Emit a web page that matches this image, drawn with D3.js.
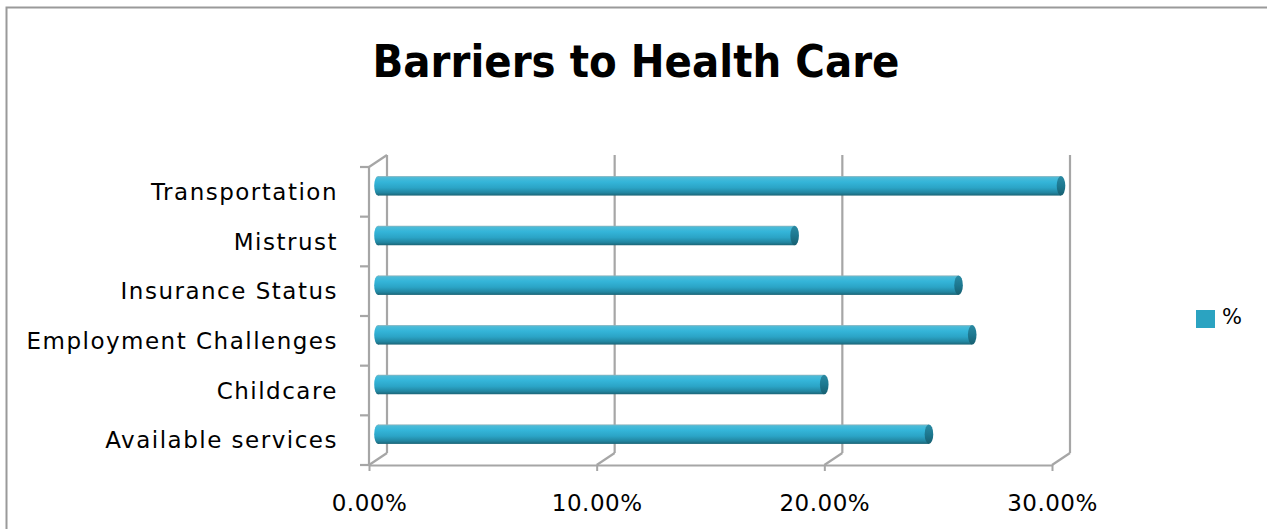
<!DOCTYPE html>
<html>
<head>
<meta charset="utf-8">
<script src="https://cdn.jsdelivr.net/npm/d3@7"></script>
<style>
  html, body { margin: 0; padding: 0; background: #fff; }
  svg { display: block; }
  text { font-family: "DejaVu Sans", Verdana, sans-serif; fill: #000; }
</style>
</head>
<body>
<script>
// Barriers to Health Care — share of respondents citing each barrier
const categories = ["Transportation", "Mistrust", "Insurance Status",
                    "Employment Challenges", "Childcare", "Available services"];
const values = [0.300, 0.183, 0.255, 0.261, 0.196, 0.242];
const xTicks = [0, 0.1, 0.2, 0.3];
const seriesName = "%";
const title = "Barriers to Health Care";

const W = 1267, H = 529;
const depthX = 18, depthY = -12;          // 3-D wall offset
const gridColor = "#a6a6a6";

const svg = d3.select("body").append("svg")
  .attr("width", W).attr("height", H);

const defs = svg.append("defs");
const grad = defs.append("linearGradient")
  .attr("id", "cyl").attr("x1", 0).attr("y1", 0).attr("x2", 0).attr("y2", 1);
[["0", "#8fb4bd"], ["0.08", "#4bbbd8"], ["0.3", "#34b5d9"], ["0.6", "#2ba4c6"],
 ["0.85", "#2286a1"], ["1", "#1b6577"]].forEach(([o, c]) =>
  grad.append("stop").attr("offset", o).attr("stop-color", c));
const capGrad = defs.append("linearGradient")
  .attr("id", "cap").attr("x1", 0).attr("y1", 0).attr("x2", 0).attr("y2", 1);
[["0", "#2a8aa3"], ["0.5", "#1d7890"], ["1", "#175f70"]].forEach(([o, c]) =>
  capGrad.append("stop").attr("offset", o).attr("stop-color", c));

// outer frame
svg.append("rect")
  .attr("x", 6.5).attr("y", 7.5).attr("width", W + 20).attr("height", H + 20)
  .attr("fill", "none").attr("stroke", "#9a9a9a").attr("stroke-width", 2);

// title
svg.append("text")
  .attr("x", 636).attr("y", 77)
  .attr("text-anchor", "middle")
  .attr("font-size", 44).attr("font-weight", "bold")
  .attr("textLength", 527).attr("lengthAdjust", "spacingAndGlyphs")
  .text(title);

// scales (front plane of the 3-D plot)
const x = d3.scaleLinear().domain([0, 0.3]).range([369, 1052]);
const y = d3.scaleBand().domain(categories).range([167, 465]).padding(0);
const x0 = x(0), yTop = y.range()[0], yBot = y.range()[1];

const walls = svg.append("g").attr("fill", "none")
  .attr("stroke", gridColor).attr("stroke-width", 2.2);

// back-wall gridlines and floor diagonals
xTicks.forEach(t => {
  const fx = x(t);
  walls.append("line")
    .attr("x1", fx + depthX).attr("y1", yTop + depthY)
    .attr("x2", fx + depthX).attr("y2", yBot + depthY);
  walls.append("line")
    .attr("x1", fx).attr("y1", yBot)
    .attr("x2", fx + depthX).attr("y2", yBot + depthY);
});
// side wall: front edge + top diagonal
walls.append("line")
  .attr("x1", x0).attr("y1", yTop).attr("x2", x0).attr("y2", yBot);
walls.append("line")
  .attr("x1", x0).attr("y1", yTop).attr("x2", x0 + depthX).attr("y2", yTop + depthY);

// category boundary ticks on the side wall
const bounds = categories.map(c => y(c)).concat([yBot]);
walls.selectAll("line.ytick").data(bounds).join("line")
  .attr("class", "ytick")
  .attr("x1", x0 - 9).attr("x2", x0)
  .attr("y1", d => d).attr("y2", d => d);

// x axis along the front floor edge
const xAxis = svg.append("g")
  .attr("transform", `translate(0,${yBot})`)
  .call(d3.axisBottom(x).tickValues(xTicks).tickFormat(d3.format(".2%"))
        .tickSize(6).tickPadding(24).tickSizeOuter(0));
xAxis.select(".domain").attr("stroke", gridColor).attr("stroke-width", 2.2);
xAxis.selectAll(".tick line").attr("stroke", gridColor).attr("stroke-width", 2);
xAxis.selectAll(".tick text")
  .attr("font-family", "DejaVu Sans, sans-serif")
  .attr("font-size", 23).attr("letter-spacing", "0.5px").attr("fill", "#000");

// y axis labels
const yAxis = svg.append("g")
  .attr("transform", `translate(${x0},0)`)
  .call(d3.axisLeft(y).tickSize(0).tickPadding(31));
yAxis.select(".domain").remove();
yAxis.selectAll(".tick text")
  .attr("font-family", "DejaVu Sans, sans-serif")
  .attr("font-size", 23).attr("letter-spacing", "1.5px").attr("fill", "#000")
  .attr("dy", "0.36em");

// cylinder bars, placed mid-depth
const barH = 19.5, rx = 3.8;
const bars = svg.append("g").selectAll("g.bar")
  .data(categories.map((c, i) => ({ c, v: values[i] })))
  .join("g").attr("class", "bar")
  .attr("transform", d =>
    `translate(${depthX / 2},${y(d.c) + y.bandwidth() / 2 + depthY / 2})`);

bars.append("ellipse")
  .attr("cx", x0).attr("cy", 0).attr("rx", rx).attr("ry", barH / 2)
  .attr("fill", "url(#cyl)");
bars.append("rect")
  .attr("x", x0).attr("y", -barH / 2)
  .attr("width", d => x(d.v) - x0).attr("height", barH)
  .attr("fill", "url(#cyl)");
bars.append("ellipse")
  .attr("cx", d => x(d.v)).attr("cy", 0).attr("rx", rx + 0.5).attr("ry", barH / 2)
  .attr("fill", "url(#cap)");

// legend
const legend = svg.append("g").attr("transform", "translate(1196,310)");
legend.append("rect").attr("width", 19).attr("height", 18).attr("fill", "#2ba3c1");
legend.append("text").attr("x", 26).attr("y", 14)
  .attr("font-size", 21).text(seriesName);
</script>
</body>
</html>
